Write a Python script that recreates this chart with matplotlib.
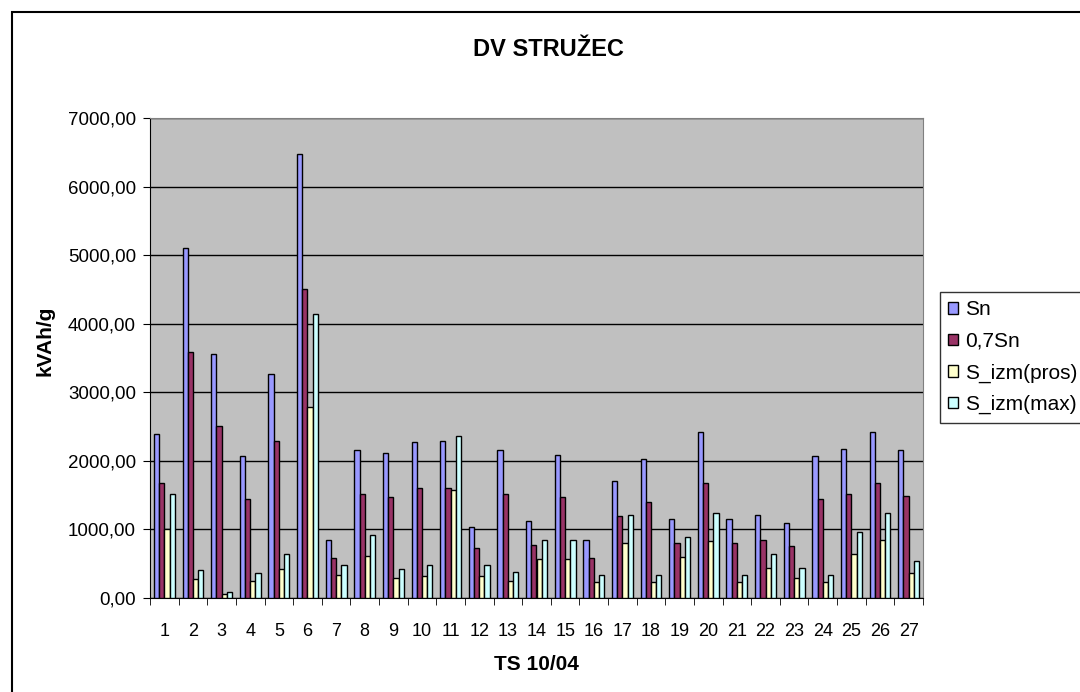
import numpy as np
import matplotlib.pyplot as plt
from matplotlib.patches import Rectangle
from matplotlib.ticker import FuncFormatter, MultipleLocator

plt.rcParams['font.family'] = ['Liberation Sans', 'DejaVu Sans']

ts = [str(i) for i in range(1, 28)]
sn = [2390, 5110, 3565, 2070, 3265, 6470, 850, 2155, 2110, 2275, 2295, 1030, 2160,
      1125, 2090, 850, 1700, 2020, 1145, 2420, 1145, 1215, 1100, 2070, 2180, 2420, 2160]
sn07 = [1670, 3585, 2505, 1445, 2295, 4510, 590, 1510, 1470, 1605, 1605, 730, 1510,
        780, 1475, 590, 1195, 1400, 800, 1675, 800, 850, 755, 1445, 1510, 1675, 1490]
s_pros = [1000, 270, 65, 250, 430, 2780, 335, 610, 290, 315, 1580, 315, 250,
          565, 565, 230, 805, 230, 595, 825, 230, 435, 290, 230, 635, 845, 365]
s_max = [1510, 405, 90, 365, 635, 4135, 475, 915, 430, 475, 2365, 475, 385,
         845, 845, 335, 1215, 335, 890, 1235, 335, 635, 435, 335, 965, 1235, 545]

series = [sn, sn07, s_pros, s_max]
names = ['Sn', '0,7Sn', 'S_izm(pros)', 'S_izm(max)']
colors = ['#9999FF', '#993366', '#FFFFCC', '#CCFFFF']

fig = plt.figure(figsize=(10.8, 6.92), dpi=100)
fig.patch.set_facecolor('white')
# chart area border (cut off at right and bottom like the original)
fig.patches.append(Rectangle((12 / 1080, -0.05), 1.2, 0.05 + 1 - 12 / 692,
                             transform=fig.transFigure, fill=False,
                             edgecolor='black', linewidth=1.5))

ax = fig.add_axes([150 / 1080, 1 - 598 / 692, (923 - 150) / 1080, (598 - 118) / 692])
ax.set_facecolor('#C0C0C0')

x = np.arange(1, len(ts) + 1)
w = 1 / 5.5
for k, (vals, name, c) in enumerate(zip(series, names, colors)):
    ax.bar(x + (k - 1.5) * w, vals, width=w, color=c, edgecolor='black',
           linewidth=1, label=name, zorder=3)

ax.set_xlim(0.5, len(ts) + 0.5)
ax.set_ylim(0, 7000)
ax.yaxis.set_major_locator(MultipleLocator(1000))
ax.yaxis.set_major_formatter(FuncFormatter(lambda v, p: f'{v:.2f}'.replace('.', ',')))
ax.grid(axis='y', color='black', linewidth=1, zorder=1)

ax.set_xticks(x)
ax.set_xticklabels(ts)
ax.set_xticks(np.arange(0.5, len(ts) + 1), minor=True)
ax.tick_params(axis='x', which='major', length=0, labelsize=13, pad=18)
ax.tick_params(axis='x', which='minor', length=5, direction='out', color='black')
ax.tick_params(axis='y', length=5, direction='out', labelsize=13.5, pad=5)

for side in ['top', 'right']:
    ax.spines[side].set_color('#808080')
for side in ['left', 'bottom']:
    ax.spines[side].set_color('black')

ax.set_xlabel('TS 10/04', fontsize=15, fontweight='bold')
ax.xaxis.set_label_coords(0.5, (598 - 665) / 480, transform=ax.transAxes)
ax.xaxis.label.set_va('center')
ax.set_ylabel('kVAh/g', fontsize=15, fontweight='bold')
ax.yaxis.set_label_coords((45 - 150) / 773, 0.535, transform=ax.transAxes)
ax.yaxis.label.set_va('center')
fig.text(548 / 1080, 1 - 50 / 692, 'DV STRUŽEC', ha='center', va='center',
         fontsize=17, fontweight='bold')

leg = fig.legend(loc='upper left', bbox_to_anchor=(940 / 1080, 1 - 292 / 692),
                 fontsize=15, frameon=True, fancybox=False, edgecolor='black',
                 handlelength=0.45, handleheight=0.45, handletextpad=0.35,
                 labelspacing=0.6, borderpad=0.4, borderaxespad=0)
leg.get_frame().set_linewidth(1)

fig.savefig('out.png', dpi=100)
